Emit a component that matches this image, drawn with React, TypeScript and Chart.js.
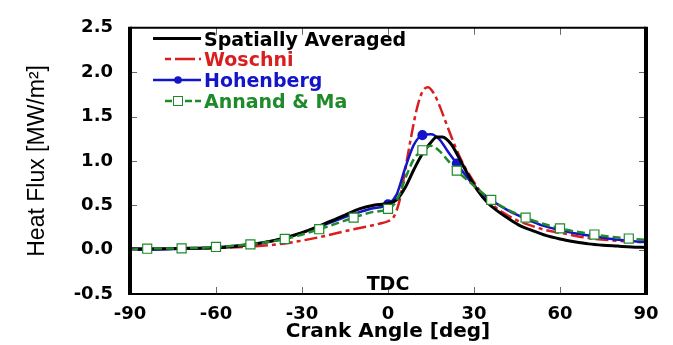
import React, { useEffect, useRef } from 'react';
import { Chart, registerables } from 'chart.js';

Chart.register(...registerables);

// ---- Data ----
const xTickValues = [-90, -60, -30, 0, 30, 60, 90];
const yTickValues = [-0.5, 0, 0.5, 1.0, 1.5, 2.0, 2.5];

const avgAngles = [-90, -80, -70, -60, -50, -40, -30, -20, -15, -10, -5, 0, 3, 6, 9, 12, 15, 17, 19, 22, 25, 28, 31, 35, 38, 42, 46, 50, 55, 60, 65, 70, 75, 80, 85, 90];
const avgFlux = [0.01, 0.01, 0.015, 0.02, 0.05, 0.1, 0.19, 0.32, 0.39, 0.46, 0.5, 0.52, 0.56, 0.7, 0.9, 1.08, 1.21, 1.27, 1.27, 1.19, 1.02, 0.84, 0.68, 0.52, 0.44, 0.35, 0.27, 0.22, 0.16, 0.12, 0.09, 0.065, 0.05, 0.04, 0.03, 0.025];

const woschniAngles = [-90, -75, -60, -48, -36, -24, -12, -6, -2, 0, 2, 4, 6, 8, 10, 12, 14, 16, 18, 20, 22, 24, 27, 30, 33, 36, 40, 45, 50, 55, 60, 70, 80, 90];
const woschniFlux = [0.0, 0.01, 0.02, 0.035, 0.07, 0.14, 0.23, 0.27, 0.3, 0.32, 0.37, 0.55, 0.9, 1.26, 1.58, 1.78, 1.83, 1.76, 1.62, 1.45, 1.28, 1.12, 0.92, 0.76, 0.62, 0.52, 0.42, 0.33, 0.27, 0.22, 0.19, 0.13, 0.1, 0.08];

const hohenbergAngles = [-90, -84, -72, -60, -48, -36, -24, -12, -6, 0, 3, 6, 9, 12, 15, 18, 21, 24, 27, 30, 36, 42, 48, 54, 60, 66, 72, 78, 84, 90];
const hohenbergFlux = [0.0, 0.0, 0.01, 0.025, 0.06, 0.13, 0.26, 0.4, 0.46, 0.51, 0.62, 0.92, 1.18, 1.29, 1.3, 1.24, 1.1, 0.97, 0.84, 0.72, 0.56, 0.44, 0.35, 0.27, 0.22, 0.18, 0.15, 0.12, 0.1, 0.085];
const hohenbergMarkerAngles = [0, 12, 24];

const annandAngles = [-90, -84, -72, -60, -48, -36, -24, -12, -6, 0, 3, 6, 9, 12, 15, 18, 21, 24, 30, 36, 48, 60, 72, 84, 90];
const annandFlux = [0.0, 0.01, 0.015, 0.03, 0.06, 0.12, 0.23, 0.36, 0.42, 0.46, 0.55, 0.8, 1.02, 1.12, 1.17, 1.11, 1.0, 0.89, 0.72, 0.56, 0.36, 0.24, 0.17, 0.125, 0.11];
const annandMarkerAngles = [-84, -72, -60, -48, -36, -24, -12, 0, 12, 24, 36, 48, 60, 72, 84];

const seriesNames = ['Spatially Averaged', 'Woschni', 'Hohenberg', 'Annand & Ma'];
const tdcLabel = 'TDC';
const xAxisTitle = 'Crank Angle [deg]';
const yAxisTitle = 'Heat Flux [MW/m\u00B2]';

// ---- Styles ----
const BLACK = '#000000';
const RED = '#d81e1e';
const BLUE = '#1414c8';
const GREEN = '#1f8a2a';
const BOLD_FONT = 'DejaVu Sans';

const toPoints = (xs: number[], ys: number[]) => xs.map((x, i) => ({ x, y: ys[i] }));

const framePlugin = {
  id: 'frameAndLegend',
  afterDraw(chart: any) {
    const ctx = chart.ctx as CanvasRenderingContext2D;
    const xs = chart.scales.x;
    const ys = chart.scales.y;
    const a = chart.chartArea;
    ctx.save();

    // inward tick marks
    ctx.strokeStyle = '#6a6a6a';
    ctx.lineWidth = 1;
    ctx.setLineDash([]);
    xTickValues.slice(1, -1).forEach((v) => {
      const px = Math.round(xs.getPixelForValue(v)) + 0.5;
      ctx.beginPath();
      ctx.moveTo(px, a.bottom);
      ctx.lineTo(px, a.bottom - 7);
      ctx.moveTo(px, a.top);
      ctx.lineTo(px, a.top + 7);
      ctx.stroke();
    });
    yTickValues.slice(1, -1).forEach((v) => {
      const py = Math.round(ys.getPixelForValue(v)) + 0.5;
      ctx.beginPath();
      ctx.moveTo(a.left, py);
      ctx.lineTo(a.left + 7, py);
      ctx.moveTo(a.right, py);
      ctx.lineTo(a.right - 7, py);
      ctx.stroke();
    });

    // frame
    ctx.strokeStyle = '#000';
    ctx.lineWidth = 2;
    ctx.beginPath();
    ctx.moveTo(a.left, a.top);
    ctx.lineTo(a.right, a.top);
    ctx.moveTo(a.left, a.bottom);
    ctx.lineTo(a.right, a.bottom);
    ctx.stroke();
    ctx.lineWidth = 4;
    ctx.beginPath();
    ctx.moveTo(a.left, a.top - 1);
    ctx.lineTo(a.left, a.bottom + 1);
    ctx.moveTo(a.right, a.top - 1);
    ctx.lineTo(a.right, a.bottom + 1);
    ctx.stroke();

    // TDC label
    ctx.fillStyle = '#000';
    ctx.font = `bold 19px "${BOLD_FONT}"`;
    ctx.textAlign = 'center';
    ctx.textBaseline = 'alphabetic';
    ctx.fillText(tdcLabel, xs.getPixelForValue(0), 290);

    // legend
    const rows = [
      { color: BLACK, dash: [] as number[], width: 3, x0: 153, marker: 'none' },
      { color: RED, dash: [6, 4, 14, 0], width: 2.5, x0: 165, marker: 'none' },
      { color: BLUE, dash: [] as number[], width: 2.5, x0: 153, marker: 'circle' },
      { color: GREEN, dash: [7, 3], width: 2.5, x0: 165, marker: 'square' },
    ];
    const centers = [38.5, 59, 80, 101];
    rows.forEach((r, i) => {
      const cy = centers[i];
      ctx.strokeStyle = r.color;
      ctx.lineWidth = r.width;
      ctx.setLineDash(r.dash);
      ctx.beginPath();
      ctx.moveTo(r.x0, cy);
      ctx.lineTo(201, cy);
      ctx.stroke();
      ctx.setLineDash([]);
      if (r.marker === 'circle') {
        ctx.fillStyle = r.color;
        ctx.beginPath();
        ctx.arc(178, cy, 3.8, 0, Math.PI * 2);
        ctx.fill();
      } else if (r.marker === 'square') {
        ctx.fillStyle = '#fff';
        ctx.strokeStyle = r.color;
        ctx.lineWidth = 1;
        ctx.fillRect(173.5, cy - 4.5, 9, 9);
        ctx.strokeRect(173.5, cy - 4.5, 9, 9);
      }
      ctx.fillStyle = r.color;
      ctx.font = `bold 19px "${BOLD_FONT}"`;
      ctx.textAlign = 'left';
      ctx.textBaseline = 'alphabetic';
      ctx.fillText(seriesNames[i], 204, cy + 7);
    });

    ctx.restore();
  },
};

export default function App() {
  const canvasRef = useRef<HTMLCanvasElement | null>(null);

  useEffect(() => {
    if (!canvasRef.current) return;
    const chart = new Chart(canvasRef.current, {
      type: 'line',
      data: {
        datasets: [
          {
            label: seriesNames[0],
            data: toPoints(avgAngles, avgFlux),
            borderColor: BLACK,
            borderWidth: 3,
            pointRadius: 0,
            cubicInterpolationMode: 'monotone',
            order: 1,
          },
          {
            label: seriesNames[1],
            data: toPoints(woschniAngles, woschniFlux),
            borderColor: RED,
            borderWidth: 2.5,
            borderDash: [13, 4, 4, 4],
            pointRadius: 0,
            cubicInterpolationMode: 'monotone',
            order: 3,
          },
          {
            label: seriesNames[2],
            data: toPoints(hohenbergAngles, hohenbergFlux),
            borderColor: BLUE,
            backgroundColor: BLUE,
            borderWidth: 2.5,
            pointRadius: (c: any) => (hohenbergMarkerAngles.includes(c.raw?.x) ? 3.8 : 0),
            pointStyle: 'circle',
            cubicInterpolationMode: 'monotone',
            order: 2,
          },
          {
            label: seriesNames[3],
            data: toPoints(annandAngles, annandFlux),
            borderColor: GREEN,
            backgroundColor: '#ffffff',
            borderWidth: 2.5,
            borderDash: [8, 4],
            pointRadius: (c: any) => (annandMarkerAngles.includes(c.raw?.x) ? 6.4 : 0),
            pointBorderWidth: 1.2,
            pointBorderColor: GREEN,
            pointBackgroundColor: '#ffffff',
            pointStyle: 'rect',
            cubicInterpolationMode: 'monotone',
            order: 0,
          },
        ],
      } as any,
      options: {
        responsive: false,
        animation: false,
        events: [],
        layout: { padding: { left: 0, right: 27, top: 23, bottom: 0 } },
        plugins: {
          legend: { display: false },
          tooltip: { enabled: false },
        },
        scales: {
          x: {
            type: 'linear',
            min: -90,
            max: 90,
            afterBuildTicks: (s: any) => {
              s.ticks = xTickValues.map((v) => ({ value: v }));
            },
            afterFit: (s: any) => {
              s.height = 51;
            },
            grid: { display: false, drawTicks: false },
            border: { display: false },
            ticks: {
              color: '#000',
              padding: 10,
              font: { family: BOLD_FONT, weight: 'bold', size: 18 },
              callback: (v: any) => String(v),
            },
            title: {
              display: true,
              text: xAxisTitle,
              color: '#000',
              font: { family: BOLD_FONT, weight: 'bold', size: 20 },
              padding: { top: 0, bottom: 1 },
            },
          },
          y: {
            type: 'linear',
            min: -0.5,
            max: 2.5,
            afterBuildTicks: (s: any) => {
              s.ticks = yTickValues.map((v) => ({ value: v }));
            },
            afterFit: (s: any) => {
              s.width = 130;
            },
            grid: { display: false, drawTicks: false },
            border: { display: false },
            ticks: {
              color: '#000',
              padding: 17,
              font: { family: BOLD_FONT, weight: 'bold', size: 18 },
              callback: (v: any) => Number(v).toFixed(1),
            },
            title: {
              display: true,
              text: yAxisTitle,
              color: '#000',
              font: { family: 'Liberation Sans', weight: 'normal', size: 23 },
              padding: { top: 24, bottom: 0 },
            },
          },
        },
      } as any,
      plugins: [framePlugin],
    });
    return () => chart.destroy();
  }, []);

  return (
    <div style={{ position: 'absolute', left: 0, top: 0, width: 673, height: 345, background: '#fff' }}>
      <canvas ref={canvasRef} width={673} height={345} style={{ display: 'block' }} />
    </div>
  );
}
